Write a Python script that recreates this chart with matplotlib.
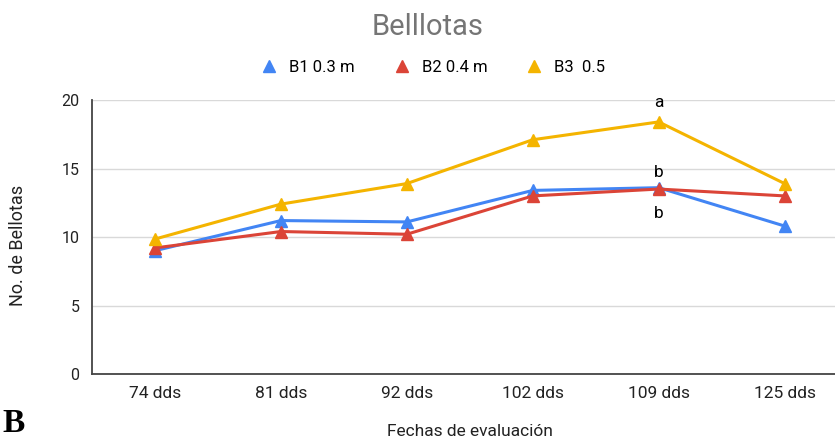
import matplotlib
matplotlib.use("Agg")
import matplotlib.pyplot as plt

categories = ["74 dds", "81 dds", "92 dds", "102 dds", "109 dds", "125 dds"]
b1 = [9.0, 11.2, 11.1, 13.4, 13.6, 10.8]
b2 = [9.2, 10.4, 10.2, 13.0, 13.5, 13.0]
b3 = [9.85, 12.4, 13.9, 17.1, 18.4, 13.9]
series_names = ["B1 0.3 m", "B2 0.4 m", "B3  0.5"]
colors = ["#4285F4", "#DB4437", "#F4B400"]
yticks = [0, 5, 10, 15, 20]

plt.rcParams['font.family'] = ['Roboto', 'DejaVu Sans']

fig = plt.figure(figsize=(8.35, 4.41), dpi=100)
ax = fig.add_axes([92/835, 1 - 374/441, (835 - 92)/835, (374 - 100)/441])

x = list(range(len(categories)))
for vals, name, c in zip([b1, b2, b3], series_names, colors):
    ax.plot(x, vals, color=c, lw=2.2, marker="^", markersize=9, label=name)

ax.set_ylim(0, 20)
ax.set_xlim(-0.5, 5.4)
ax.set_yticks(yticks)
ax.set_xticks(x)
ax.set_xticklabels(categories)
ax.tick_params(axis="both", length=0, colors="#222222")
ax.tick_params(axis="x", pad=9, labelsize=12.5)
ax.tick_params(axis="y", pad=9, labelsize=11.5)
ax.grid(axis="y", color="#d9d9d9", lw=1)
ax.set_axisbelow(True)
for s in ["top", "right"]:
    ax.spines[s].set_visible(False)
for s in ["left", "bottom"]:
    ax.spines[s].set_color("#444444")
    ax.spines[s].set_linewidth(1.3)

fig.text(18/835, 1 - 245/441, "No. de Bellotas", rotation=90, ha="center", va="center",
         fontsize=13, color="#222222")
fig.text(470/835, 1 - 431/441, "Fechas de evaluación", ha="center", va="center",
         fontsize=12.5, color="#222222")

ax.annotate("a", (4, b3[4]), xytext=(0, 11), textcoords="offset points", ha="center", fontsize=12.5)
ax.annotate("b", (4, b1[4]), xytext=(0, 8), textcoords="offset points", ha="center", fontsize=12.5)
ax.annotate("b", (4, b2[4]), xytext=(0, -21), textcoords="offset points", ha="center", fontsize=12.5)

fig.text(428/835, 1 - 27/441, "Belllotas", ha="center", va="center", fontsize=21, color="#757575")
fig.legend(loc="center", bbox_to_anchor=(432/835, 1 - 67/441), ncol=3, frameon=False,
           fontsize=12, handlelength=1.2, handletextpad=0.6, columnspacing=2.2,
           markerscale=0.9)
leg = fig.legends[0]
for h in leg.legend_handles:
    h.set_linestyle("none")

fig.text(14/835, 1 - 424/441, "B", ha="center", va="center", fontsize=24, fontweight="bold",
         family="Liberation Serif")

fig.savefig("out.png", dpi=100, facecolor="white")
